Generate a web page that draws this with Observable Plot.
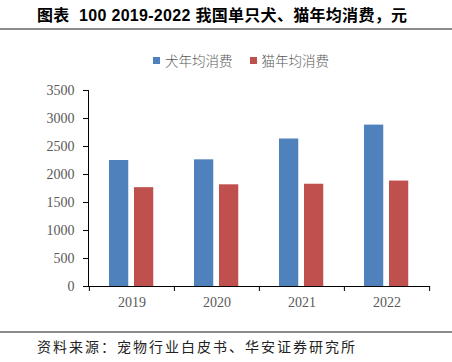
<!DOCTYPE html>
<html><head><meta charset="utf-8">
<script src="https://cdn.jsdelivr.net/npm/d3@7"></script>
<script src="https://cdn.jsdelivr.net/npm/@observablehq/plot@0.6"></script>
<style>
html,body{margin:0;padding:0;background:#fff;}
#page{position:relative;width:452px;height:362px;overflow:hidden;}
#title{position:absolute;left:37px;top:2px;font-family:"Liberation Sans","Noto Sans CJK SC",sans-serif;font-weight:bold;font-size:16px;letter-spacing:0.3px;color:#000;white-space:nowrap;}
.rule{position:absolute;left:0;width:452px;height:2px;background:#8c8c8c;}
#legend{position:absolute;top:50px;left:153px;font-family:"Noto Sans CJK SC",serif;font-size:13.5px;font-weight:300;color:#595959;white-space:nowrap;display:flex;align-items:center;}
.sw{display:inline-block;width:7px;height:7px;margin-right:5px;}
#chart{position:absolute;left:0;top:75px;}
#source{position:absolute;left:37px;top:336px;font-family:"Noto Sans CJK SC",serif;font-size:14px;letter-spacing:2px;color:#222;white-space:nowrap;}
</style></head>
<body><div id="page">
<div id="title">图表&nbsp; 100 2019-2022 我国单只犬、猫年均消费，元</div>
<div class="rule" style="top:28px"></div>
<div id="legend"></div>
<div id="chart"></div>
<div class="rule" style="top:331px;height:1.5px"></div>
<div id="source">资料来源：宠物行业白皮书、华安证券研究所</div>
</div>
<script>
const years = ["2019", "2020", "2021", "2022"];
const dogSpend = [2250, 2262, 2634, 2882];
const catSpend = [1765, 1816, 1826, 1883];
const seriesNames = ["犬年均消费", "猫年均消费"];
const seriesColors = ["#4F81BD", "#C0504D"];
const yTicks = [0, 500, 1000, 1500, 2000, 2500, 3000, 3500];

const dogData = years.map((y, i) => ({year: y, value: dogSpend[i]}));
const catData = years.map((y, i) => ({year: y, value: catSpend[i]}));

// legend
const legend = document.getElementById("legend");
seriesNames.forEach((n, i) => {
  const item = document.createElement("span");
  item.style.display = "inline-flex";
  item.style.alignItems = "center";
  item.style.marginRight = i === 0 ? "17px" : "0";
  const sw = document.createElement("span");
  sw.className = "sw";
  sw.style.background = seriesColors[i];
  item.appendChild(sw);
  item.appendChild(document.createTextNode(n));
  legend.appendChild(item);
});

const W = 452, ML = 88, MR = 23;
const bw = (W - ML - MR) / years.length;
const barW = 19.5;

const chart = Plot.plot({
  width: W,
  height: 241,
  marginTop: 15,
  marginBottom: 30,
  marginLeft: ML,
  marginRight: MR,
  style: {fontFamily: "'Liberation Serif', 'Times New Roman', serif", fontSize: "14px", background: "transparent"},
  x: {type: "band", domain: years, paddingInner: 0, paddingOuter: 0},
  y: {domain: [0, 3500]},
  marks: [
    Plot.barY(dogData, {x: "year", y: "value", fill: seriesColors[0], insetLeft: 20, insetRight: bw - 20 - barW}),
    Plot.barY(catData, {x: "year", y: "value", fill: seriesColors[1], insetLeft: 45, insetRight: bw - 45 - barW}),
    Plot.frame({anchor: "left", stroke: "black"}),
    Plot.frame({anchor: "bottom", stroke: "black"}),
    Plot.axisY({ticks: yTicks, tickFormat: d3.format("d"), tickSize: 5, tickPadding: 9, stroke: "black", fill: "#595959", label: null}),
    Plot.axisX({tickSize: 0, tickPadding: 11, fill: "#595959", label: null}),
    Plot.axisX({tickSize: 5, tickFormat: () => "", stroke: "black", dx: -bw / 2, label: null}),
    Plot.axisX({ticks: [years[years.length - 1]], tickSize: 5, tickFormat: () => "", stroke: "black", dx: bw / 2, label: null})
  ]
});
document.getElementById("chart").appendChild(chart);
</script>
</body></html>
